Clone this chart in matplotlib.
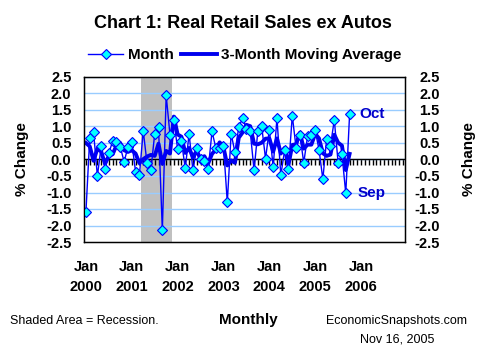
import matplotlib
matplotlib.use("Agg")
import matplotlib.pyplot as plt
import numpy as np

plt.rcParams['font.family'] = ['Liberation Sans', 'DejaVu Sans']

# monthly % change, Jan 2000 .. Oct 2005
month = [
    -1.60, 0.65, 0.83, -0.50, 0.40, -0.28, 0.20, 0.55, 0.53, 0.38, -0.07, 0.38,
    0.52, -0.37, -0.48, 0.87, -0.12, -0.33, 0.78, 0.98, -2.15, 1.95, 0.75, 1.20,
    0.32, 0.55, -0.27, 0.78, -0.33, 0.35, 0.00, -0.05, -0.30, 0.85, 0.35, 0.35,
    0.42, -1.30, 0.78, 0.22, 0.98, 1.25, 0.93, 0.85, -0.33, 0.87, 1.00, 0.03,
    0.90, -0.22, 1.25, -0.48, 0.28, -0.30, 1.33, 0.35, 0.75, -0.10, 0.70, 0.75,
    0.88, 0.30, -0.60, 0.63, 0.42, 1.20, -0.10, 0.17, -1.03, 1.37,
]
# 3-month moving average
mavg = [
    0.50, 0.40, -0.04, 0.33, 0.24, -0.13, 0.11, 0.16, 0.43, 0.49, 0.28, 0.23,
    0.28, 0.18, -0.11, 0.01, 0.09, 0.14, 0.11, 0.48, -0.13, 0.26, 0.18, 1.30,
    0.76, 0.69, 0.20, 0.35, 0.06, 0.27, 0.01, 0.10, -0.12, 0.17, 0.30, 0.52,
    0.37, -0.18, -0.03, -0.10, 0.66, 0.82, 1.05, 1.01, 0.48, 0.46, 0.51, 0.63,
    0.64, 0.24, 0.64, 0.18, 0.35, -0.17, 0.44, 0.46, 0.81, 0.33, 0.45, 0.45,
    0.78, 0.64, 0.19, 0.11, 0.15, 0.75, 0.51, 0.42, -0.32, 0.17,
]
years = ["2000", "2001", "2002", "2003", "2004", "2005", "2006"]
recession = (14.5, 22.5)   # Apr - Nov 2001 in month index
n_cat = 84

x = np.arange(len(month))

fig = plt.figure(figsize=(4.85, 3.56), dpi=100)
ax = fig.add_axes([84/485, 1-242/356, 321/485, 165/356])

ax.axvspan(recession[0], recession[1], color="#C0C0C0", lw=0, zorder=0)
for yv in np.arange(-2.0, 2.51, 0.5):
    ax.axhline(yv, color="#99CCFF", lw=1, zorder=1)
ax.axhline(0, color="black", lw=1, zorder=1.5)

ax.plot(x, mavg, color="#0000EE", lw=2.8, zorder=2, label="3-Month Moving Average")
ax.plot(x, month, color="#0000FF", lw=1, marker="D", markersize=5.5,
        markerfacecolor="#00FFFF", markeredgecolor="#0000FF", markeredgewidth=0.8,
        zorder=3, label="Month")

ax.set_xlim(-0.5, n_cat - 0.5)
ax.set_ylim(-2.5, 2.5)
ax.set_yticks(np.arange(-2.5, 2.51, 0.5))
ax.set_yticklabels([f"{v:.1f}" for v in np.arange(-2.5, 2.51, 0.5)])
ax.set_xticks(np.arange(0, 73, 12))
ax.set_xticklabels([f"Jan\n{y}" for y in years], linespacing=1.55)
ax.tick_params(axis="x", length=0, pad=13, labelsize=10.5)
ax.tick_params(axis="y", length=0, pad=9, labelsize=10.5)
for lab in ax.get_xticklabels() + ax.get_yticklabels():
    lab.set_fontweight("bold")
ax.set_ylabel("% Change", fontsize=11, fontweight="bold", labelpad=12)
for s in ax.spines.values():
    s.set_linewidth(1)

# monthly tick marks on the zero line
zx = ax.secondary_xaxis(0, transform=ax.transData)
zx.set_xticks(np.arange(0, n_cat))
zx.tick_params(axis="x", direction="out", length=4, width=1, labelbottom=False)
zx.spines["bottom"].set_visible(False)

ax2 = ax.twinx()
ax2.set_ylim(-2.5, 2.5)
ax2.set_yticks(np.arange(-2.5, 2.51, 0.5))
ax2.set_yticklabels([f"{v:.1f}" for v in np.arange(-2.5, 2.51, 0.5)])
ax2.tick_params(axis="y", length=0, pad=25, labelsize=10.5)
for lab in ax2.get_yticklabels():
    lab.set_fontweight("bold")
    lab.set_horizontalalignment("right")
ax2.set_ylabel("% Change", fontsize=11, fontweight="bold", labelpad=16)

ax.text(71.5, 1.37, "Oct", color="#0000CC", fontsize=11, fontweight="bold",
        va="center", ha="left")
ax.text(71.0, -1.03, "Sep", color="#0000CC", fontsize=11, fontweight="bold",
        va="center", ha="left")

h, l = ax.get_legend_handles_labels()
fig.legend([h[1], h[0]], [l[1], l[0]], loc="center", bbox_to_anchor=(0.505, 1-55/356),
           ncol=2, frameon=False, handlelength=2.3, columnspacing=0.5, handletextpad=0.3,
           prop={"weight": "bold", "size": 11})

fig.text(0.5, 1-24/356, "Chart 1: Real Retail Sales ex Autos", ha="center", va="center",
         fontsize=13, fontweight="bold")
fig.text(10/485, 1-321/356, "Shaded Area = Recession.", ha="left", va="center", fontsize=9)
fig.text(248/485, 1-320/356, "Monthly", ha="center", va="center", fontsize=11, fontweight="bold")
fig.text(397/485, 1-321/356, "EconomicSnapshots.com", ha="center", va="center", fontsize=9)
fig.text(397/485, 1-339/356, "Nov 16, 2005", ha="center", va="center", fontsize=9)

fig.savefig("out.png", dpi=100)
